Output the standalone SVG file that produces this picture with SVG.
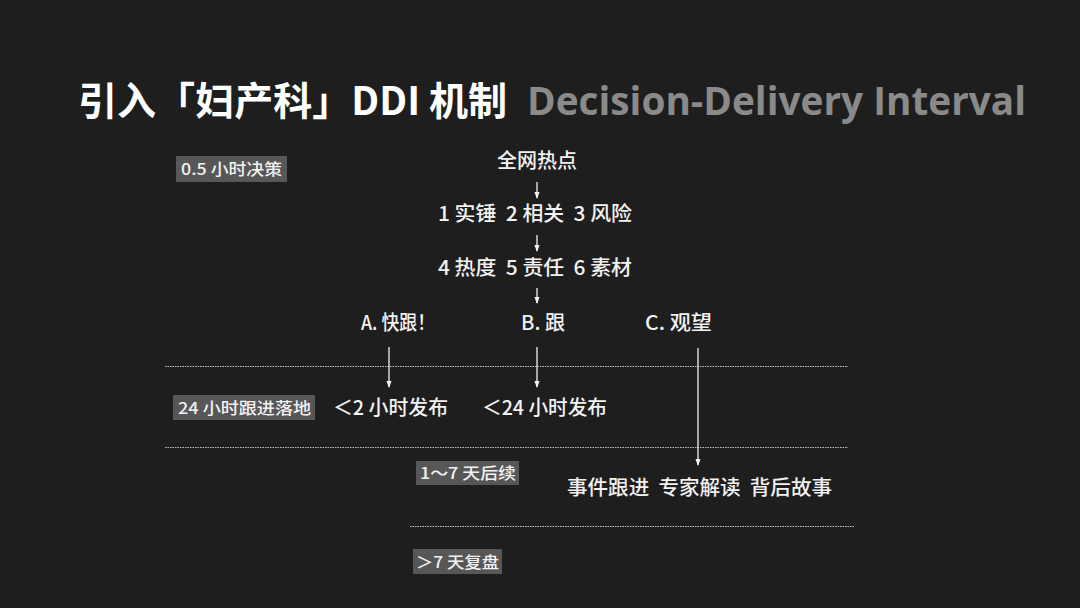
<svg xmlns="http://www.w3.org/2000/svg" width="1080" height="608" viewBox="0 0 1080 608">
<defs>
<marker id="ah" viewBox="0 0 8 8" refX="7" refY="4" markerWidth="7" markerHeight="7" markerUnits="userSpaceOnUse" orient="auto">
<path d="M0,1 L8,4 L0,7 Z" fill="#f2f2f2"/>
</marker>
<style>
.t{font-family:"Noto Sans CJK SC","Noto Sans",sans-serif;fill:#f2f2f2;white-space:pre;}
.title{font-size:39px;font-weight:bold;fill:#ffffff;}
.sub{font-family:"Open Sans","Noto Sans",sans-serif;font-size:39px;font-weight:bold;fill:#8a8a8a;}
.b{font-size:20px;font-weight:500;}
.lbl{font-size:16px;font-weight:500;}
.box{fill:#575757;}
.dash{stroke:#bdbdbd;stroke-width:1;stroke-dasharray:1.5 1;}
.arr{stroke:#f2f2f2;stroke-width:1.3;fill:none;marker-end:url(#ah);}
</style>
</defs>
<rect width="1080" height="608" fill="#1e1e1e"/>
<g id="title">
<text class="t title" x="78" y="115" textLength="429" lengthAdjust="spacingAndGlyphs">引入「妇产科」DDI 机制</text>
<text class="sub" x="527" y="115" textLength="499" lengthAdjust="spacingAndGlyphs">Decision-Delivery Interval</text>
</g>
<g id="dividers">
<line class="dash" x1="165" y1="366.5" x2="848" y2="366.5"/>
<line class="dash" x1="165" y1="447.5" x2="848" y2="447.5"/>
<line class="dash" x1="410" y1="526.5" x2="855" y2="526.5"/>
</g>
<g id="label-05h">
<rect class="box" x="176" y="156" width="111" height="26"/>
<text class="t lbl" x="181" y="175" textLength="101" lengthAdjust="spacingAndGlyphs">0.5 小时决策</text>
</g>
<g id="label-24h">
<rect class="box" x="173" y="395" width="142" height="25"/>
<text class="t lbl" x="178" y="414" textLength="133" lengthAdjust="spacingAndGlyphs">24 小时跟进落地</text>
</g>
<g id="label-1-7d">
<rect class="box" x="416" y="461" width="103" height="24"/>
<text class="t lbl" x="420" y="479" textLength="96" lengthAdjust="spacingAndGlyphs">1～7 天后续</text>
</g>
<g id="label-7d">
<rect class="box" x="413" y="549" width="89" height="25"/>
<text class="t lbl" x="416" y="568" textLength="83" lengthAdjust="spacingAndGlyphs">＞7 天复盘</text>
</g>
<g id="n-hot"><text class="t b" x="537" y="168" text-anchor="middle">全网热点</text></g>
<g id="n-criteria1"><text class="t b" xml:space="preserve" x="438" y="221" textLength="194" lengthAdjust="spacingAndGlyphs">1 实锤  2 相关  3 风险</text></g>
<g id="n-criteria2"><text class="t b" xml:space="preserve" x="438" y="275" textLength="194" lengthAdjust="spacingAndGlyphs">4 热度  5 责任  6 素材</text></g>
<g id="n-a"><text class="t b" x="361" y="330" textLength="74" lengthAdjust="spacingAndGlyphs">A. 快跟！</text></g>
<g id="n-b"><text class="t b" x="521" y="330" textLength="44" lengthAdjust="spacingAndGlyphs">B. 跟</text></g>
<g id="n-c"><text class="t b" x="645" y="330" textLength="67" lengthAdjust="spacingAndGlyphs">C. 观望</text></g>
<g id="n-2h"><text class="t b" x="333" y="415" textLength="115" lengthAdjust="spacingAndGlyphs">＜2 小时发布</text></g>
<g id="n-24h"><text class="t b" x="482" y="415" textLength="125" lengthAdjust="spacingAndGlyphs">＜24 小时发布</text></g>
<g id="n-follow"><text class="t b" xml:space="preserve" x="567" y="495" textLength="265" lengthAdjust="spacingAndGlyphs">事件跟进  专家解读  背后故事</text></g>
<g id="connectors">
<line class="arr" x1="537" y1="182" x2="537" y2="198"/>
<line class="arr" x1="537" y1="235" x2="537" y2="251"/>
<line class="arr" x1="537" y1="288" x2="537" y2="303"/>
<line class="arr" x1="389" y1="347" x2="389" y2="387"/>
<line class="arr" x1="537" y1="347" x2="537" y2="387"/>
<line class="arr" x1="698" y1="348" x2="698" y2="465"/>
</g>
</svg>
